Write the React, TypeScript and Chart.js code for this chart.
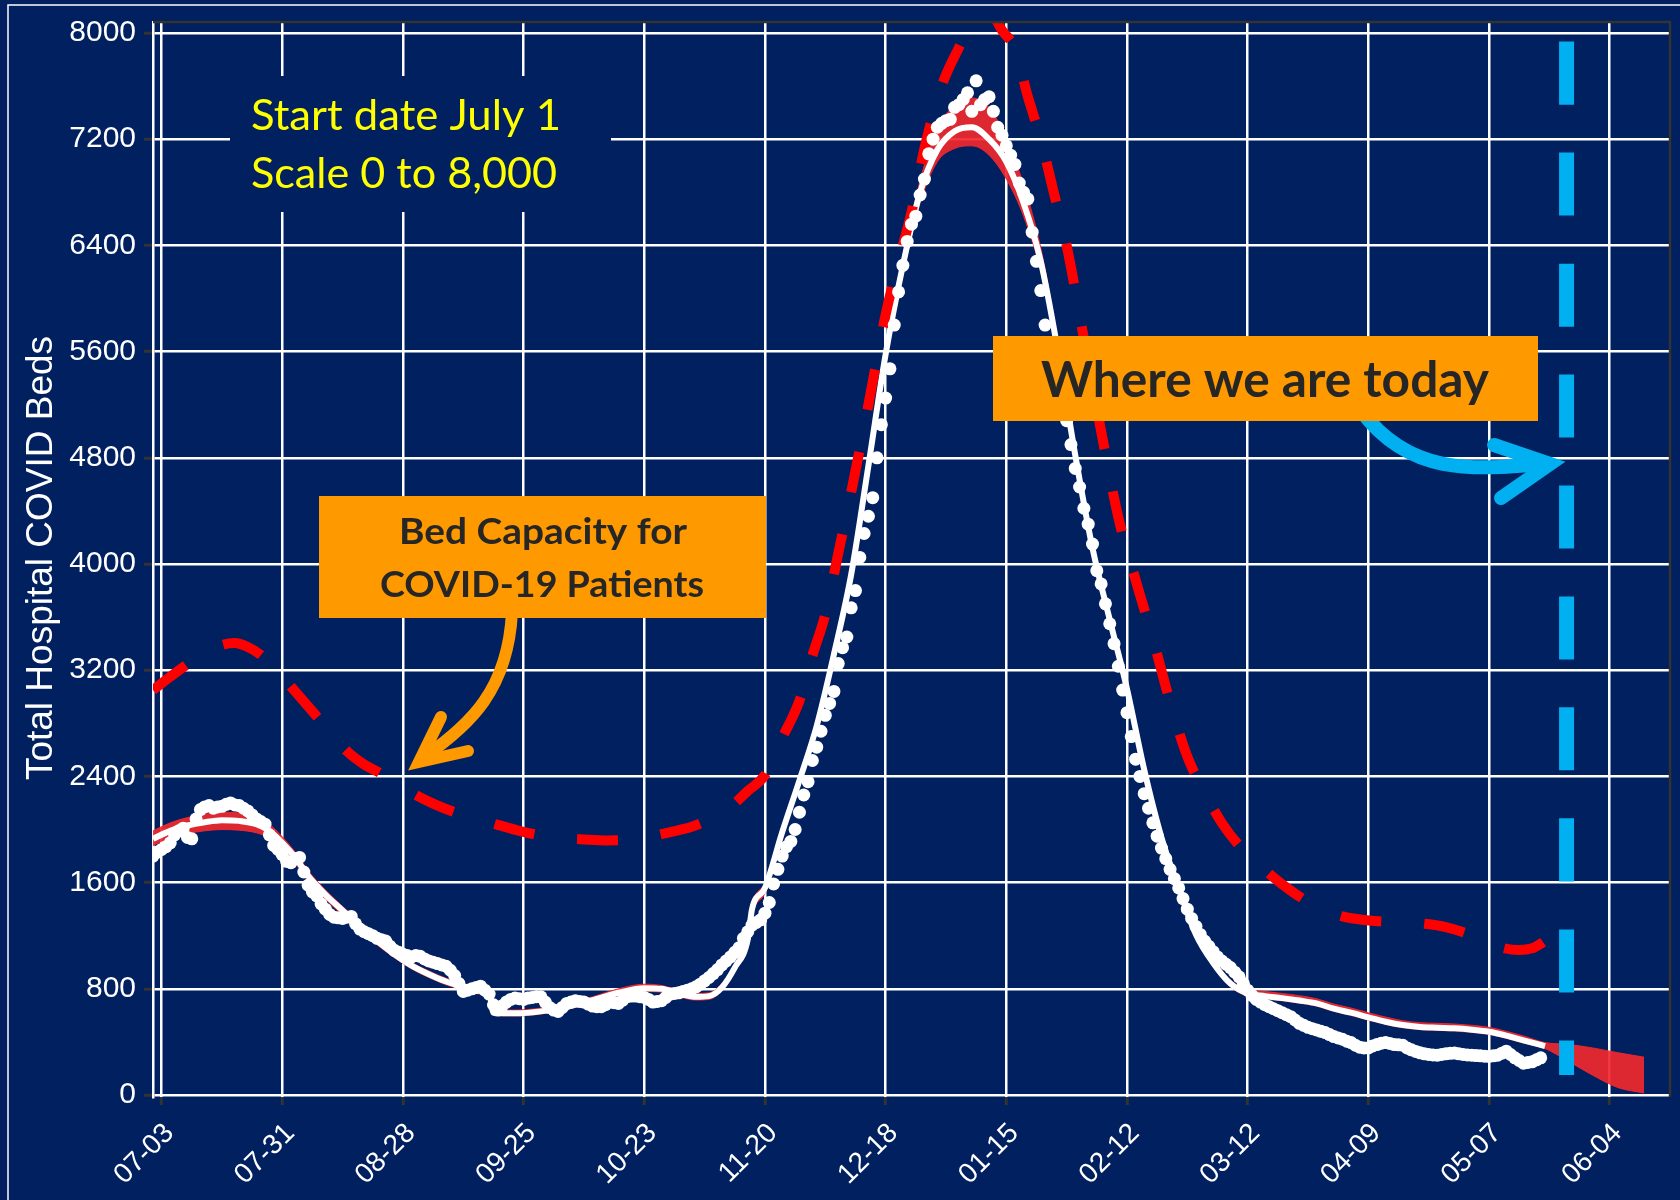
import React, { useEffect, useRef } from 'react';
import { Chart, registerables } from 'chart.js';

Chart.register(...registerables);

// ---------- axis ticks ----------
const xTickDays = [2, 30, 58, 86, 114, 142, 170, 198, 226, 254, 282, 310, 338];
const xTickLabels = ['07-03', '07-31', '08-28', '09-25', '10-23', '11-20', '12-18', '01-15', '02-12', '03-12', '04-09', '05-07', '06-04'];
const yTickValues = [0, 800, 1600, 2400, 3200, 4000, 4800, 5600, 6400, 7200, 8000];

// ---------- model fit (day index from July 1) ----------
const modelDays = [
  0, 4, 8, 12, 16, 20, 24, 27, 30, 33,
  36, 40, 44, 48, 52, 56, 60, 64, 68, 72,
  76, 78, 79, 84, 90, 96, 102, 108, 114, 118,
  122, 126, 129, 132, 135, 138, 139, 142, 146, 150,
  154, 158, 162, 166, 170, 174, 178, 182, 186, 190,
  194, 198, 202, 206, 210, 214, 218, 222, 226, 230,
  234, 238, 242, 246, 250, 254, 258, 262, 266, 270,
  274, 278, 282, 286, 290, 294, 298, 302, 306, 310,
  314, 318, 323, 328, 334, 340, 346,
];
const modelMid = [
  1930, 1990, 2030, 2055, 2070, 2065, 2040, 1990, 1900, 1790,
  1650, 1510, 1390, 1270, 1160, 1060, 975, 910, 855, 815,
  785, 775, 620, 615, 630, 665, 715, 770, 805, 800,
  765, 740, 745, 810, 960, 1170, 1400, 1560, 1980, 2370,
  2780, 3320, 3920, 4740, 5580, 6250, 6800, 7120, 7260, 7290,
  7200, 7030, 6720, 6280, 5600, 4820, 4120, 3580, 3060, 2450,
  1940, 1560, 1210, 995, 840, 765, 745, 730, 712, 690,
  650, 620, 585, 552, 527, 513, 507, 502, 492, 477,
  448, 412, 368, null, null, null, null,
];
const modelUpper = [
  1990, 2050, 2090, 2115, 2130, 2125, 2095, 2040, 1945, 1830,
  1690, 1545, 1420, 1300, 1190, 1090, 1000, 935, 880, 840,
  810, 800, 650, 640, 655, 690, 740, 800, 835, 825,
  790, 765, 770, 840, 990, 1200, 1430, 1600, 2020, 2410,
  2820, 3360, 3970, 4790, 5640, 6320, 6890, 7290, 7450, 7510,
  7440, 7200, 6860, 6380, 5670, 4880, 4170, 3630, 3100, 2490,
  1975, 1595, 1240, 1020, 865, 795, 780, 765, 748, 725,
  685, 655, 620, 587, 560, 545, 540, 535, 525, 510,
  480, 445, 395, 382, 355, 318, 285,
];
const modelLower = [
  1880, 1940, 1970, 1990, 2000, 1995, 1975, 1935, 1850, 1745,
  1610, 1475, 1355, 1240, 1130, 1035, 950, 885, 830, 790,
  760, 750, 600, 595, 610, 645, 690, 745, 780, 775,
  740, 715, 720, 785, 930, 1140, 1360, 1520, 1940, 2330,
  2740, 3280, 3870, 4690, 5520, 6180, 6720, 7030, 7130, 7150,
  7080, 6900, 6620, 6200, 5540, 4760, 4070, 3530, 3020, 2410,
  1905, 1525, 1180, 970, 815, 745, 725, 710, 692, 670,
  630, 600, 565, 532, 507, 493, 487, 482, 472, 457,
  428, 392, 350, 262, 150, 55, 15,
];

// ---------- bed capacity ----------
const capacityDays = [
  0, 4, 8, 12, 16, 19, 22, 25, 29, 33,
  37, 41, 45, 49, 53, 57, 61, 65, 70, 75,
  80, 85, 90, 95, 100, 105, 110, 115, 120, 125,
  130, 134, 138, 142, 146, 150, 153, 156, 159, 162,
  166, 170, 173, 176, 179, 183, 187, 191, 194, 197,
  200, 203, 206, 209, 212, 216, 220, 224, 228, 232,
  236, 240, 244, 248, 252, 256, 260, 264, 268, 272,
  276, 281, 286, 290, 295, 300, 305, 309, 313, 317,
  320, 322, 324.5,
];
const capacityBeds = [
  3050, 3150, 3245, 3330, 3390, 3405, 3375, 3315, 3190, 3040,
  2890, 2740, 2590, 2490, 2420, 2335, 2260, 2195, 2130, 2080,
  2035, 1990, 1955, 1935, 1925, 1918, 1922, 1945, 1980, 2020,
  2090, 2170, 2290, 2410, 2690, 2970, 3310, 3620, 4080, 4540,
  5200, 5880, 6280, 6650, 7130, 7600, 7890, 8130, 8160, 8020,
  7880, 7520, 7200, 6800, 6400, 5700, 5000, 4350, 3880, 3440,
  2960, 2550, 2280, 2050, 1880, 1755, 1640, 1540, 1455, 1390,
  1345, 1318, 1306, 1303, 1290, 1265, 1215, 1165, 1110, 1092,
  1105, 1140, 1200,
];

// ---------- observed hospital beds, one value per day from July 1 ----------
const obsStartDay = 0;
const obsBeds = [
  // days 0-9
  1800, 1830, 1850, 1870, 1900, 1960, 1990, 2010, 1940, 1930,
  // 10-19
  2080, 2150, 2170, 2180, 2160, 2170, 2175, 2190, 2200, 2185,
  // 20-29
  2180, 2160, 2140, 2110, 2080, 2060, 2040, 1960, 1880, 1850,
  // 30-39
  1810, 1760, 1750, 1780, 1790, 1680, 1580, 1530, 1500, 1440,
  // 40-49
  1400, 1360, 1340, 1335, 1330, 1340, 1345, 1290, 1250, 1230,
  // 50-59
  1215, 1200, 1180, 1170, 1160, 1120, 1090, 1075, 1060, 1050,
  // 60-69
  1040, 1050, 1045, 1025, 1010, 1000, 990, 980, 970, 940,
  // 70-79
  900, 840, 780, 790, 800, 810, 820, 790, 760, 680,
  // 80-89
  640, 670, 700, 720, 730, 725, 720, 730, 735, 740,
  // 90-99
  740, 700, 660, 640, 630, 660, 690, 700, 710, 705,
  // 100-109
  700, 685, 670, 665, 665, 680, 700, 695, 690, 715,
  // 110-119
  740, 745, 745, 740, 735, 720, 700, 705, 710, 735,
  // 120-129
  760, 765, 770, 780, 790, 800, 815, 835, 860, 885,
  // 130-139
  915, 945, 980, 1010, 1040, 1075, 1110, 1180, 1230, 1280,
  // 140-149
  1300, 1320, 1370, 1450, 1590, 1700, 1800, 1870, 1910, 2000,
  // 150-159
  2130, 2260, 2360, 2520, 2620, 2740, 2860, 2950, 3040, 3250,
  // 160-169
  3370, 3450, 3670, 3800, 4050, 4230, 4360, 4500, 4800, 5050,
  // 170-179
  5250, 5470, 5800, 6050, 6250, 6430, 6560, 6620, 6780, 6900,
  // 180-189
  7090, 7200, 7290, 7320, 7340, 7350, 7440, 7460, 7500, 7550,
  // 190-199
  7410, 7640, 7460, 7500, 7520, 7410, 7290, 7230, 7150, 7080,
  // 200-209
  7010, 6870, 6800, 6750, 6500, 6280, 6060, 5800, 5620, 5450,
  // 210-219
  5300, 5200, 5080, 4900, 4720, 4580, 4420, 4300, 4150, 3950,
  // 220-229
  3850, 3700, 3550, 3400, 3230, 3050, 2880, 2700, 2530, 2400,
  // 230-239
  2270, 2160, 2050, 1950, 1860, 1780, 1700, 1630, 1560, 1480,
  // 240-249
  1400, 1330, 1270, 1210, 1160, 1120, 1080, 1040, 1010, 985,
  // 250-259
  960, 925, 890, 840, 790, 750, 720, 700, 680, 665,
  // 260-269
  650, 635, 620, 605, 590, 565, 540, 525, 510, 500,
  // 270-279
  490, 480, 470, 455, 440, 430, 420, 405, 395, 375,
  // 280-289
  360, 355, 355, 370, 380, 390, 395, 388, 380, 378,
  // 290-299
  375, 355, 340, 328, 318, 310, 305, 302, 300, 305,
  // 300-309
  310, 314, 316, 310, 305, 302, 300, 297, 295, 292,
  // 310-319
  290, 295, 300, 315, 330, 305, 280, 260, 240, 245,
  // 320-322
  250, 265, 280,
];

// ---------- "today" marker ----------
const todayDay = 328;
const todayRange = [7936, 150];

const NAVY = '#002060';
const ORANGE = '#FF9900';
const BAND_RED = 'rgba(240, 40, 46, 0.92)';
const AXIS_FONT = '"Liberation Sans", Arial, Helvetica, sans-serif';

function fitText(
  ctx: CanvasRenderingContext2D,
  text: string,
  x: number,
  baseline: number,
  capH: number,
  width: number,
  bold: boolean,
  color: string,
  align: 'left' | 'center'
) {
  const size = capH / 0.7165;
  ctx.save();
  ctx.font = `${bold ? 'bold ' : ''}${size}px Lato, "Open Sans", sans-serif`;
  ctx.textAlign = 'left';
  ctx.textBaseline = 'alphabetic';
  const w = ctx.measureText(text).width;
  const sx = width / w;
  const left = align === 'center' ? x - width / 2 : x;
  ctx.translate(left, baseline);
  ctx.scale(sx, 1);
  ctx.fillStyle = color;
  ctx.fillText(text, 0, 0);
  ctx.restore();
}

const backgroundPlugin = {
  id: 'bgPlugin',
  beforeDraw(chart: any) {
    const ctx: CanvasRenderingContext2D = chart.ctx;
    ctx.save();
    ctx.fillStyle = NAVY;
    ctx.fillRect(0, 0, chart.width, chart.height);
    ctx.strokeStyle = '#FFFFFF';
    ctx.lineWidth = 1.5;
    ctx.beginPath();
    ctx.moveTo(8, chart.height);
    ctx.lineTo(8, 5);
    ctx.lineTo(chart.width, 5);
    ctx.stroke();
    ctx.restore();
  },
};

const annotationPlugin = {
  id: 'annotPlugin',
  afterDatasetsDraw(chart: any) {
    const ctx: CanvasRenderingContext2D = chart.ctx;
    const area = chart.chartArea;
    ctx.save();

    // dark frame top & right
    ctx.strokeStyle = '#333333';
    ctx.lineWidth = 2.5;
    ctx.beginPath();
    ctx.moveTo(area.left, area.top);
    ctx.lineTo(area.right, area.top);
    ctx.lineTo(area.right, area.bottom);
    ctx.stroke();

    // start-date note
    ctx.fillStyle = NAVY;
    ctx.fillRect(230, 76, 381, 136);
    fitText(ctx, 'Start date July 1', 251, 130, 30, 310, false, '#FFFF00', 'left');
    fitText(ctx, 'Scale 0 to 8,000', 251, 188, 31, 306, false, '#FFFF00', 'left');

    // orange arrow
    ctx.strokeStyle = ORANGE;
    ctx.lineWidth = 12;
    ctx.lineCap = 'round';
    ctx.lineJoin = 'miter';
    ctx.beginPath();
    ctx.moveTo(512, 612);
    ctx.bezierCurveTo(508, 690, 470, 725, 424, 757);
    ctx.stroke();
    ctx.beginPath();
    ctx.moveTo(441, 717);
    ctx.lineTo(419, 762);
    ctx.lineTo(468, 751);
    ctx.stroke();

    // blue arrow
    ctx.strokeStyle = '#00B0F0';
    ctx.lineWidth = 14;
    ctx.beginPath();
    ctx.moveTo(1362, 412);
    ctx.bezierCurveTo(1410, 475, 1470, 470, 1546, 464);
    ctx.stroke();
    ctx.beginPath();
    ctx.moveTo(1494, 445);
    ctx.lineTo(1550, 464);
    ctx.lineTo(1501, 498);
    ctx.stroke();

    // orange boxes
    ctx.fillStyle = ORANGE;
    ctx.fillRect(319, 496, 447, 122);
    fitText(ctx, 'Bed Capacity for', 543, 544, 25.5, 288, true, '#262626', 'center');
    fitText(ctx, 'COVID-19 Patients', 542, 597, 25.5, 324, true, '#262626', 'center');

    ctx.fillStyle = ORANGE;
    ctx.fillRect(993, 336, 545, 85);
    fitText(ctx, 'Where we are today', 1265, 397, 35, 448, true, '#262626', 'center');

    // y axis title
    ctx.save();
    ctx.translate(42, 558);
    ctx.rotate(-Math.PI / 2);
    ctx.font = `37px ${AXIS_FONT}`;
    ctx.fillStyle = '#FFFFFF';
    ctx.textAlign = 'center';
    ctx.textBaseline = 'middle';
    ctx.fillText('Total Hospital COVID Beds', 0, 0);
    ctx.restore();

    ctx.restore();
  },
};

export default function App() {
  const canvasRef = useRef<HTMLCanvasElement | null>(null);

  useEffect(() => {
    if (!canvasRef.current) return;
    const xy = (xs: number[], ys: (number | null)[]) => xs.map((x, i) => ({ x, y: ys[i] }));
    const obsPoints = obsBeds.map((y, i) => ({ x: obsStartDay + i, y }));

    const chart = new Chart(canvasRef.current, {
      type: 'line',
      data: {
        datasets: [
          {
            data: xy(modelDays, modelUpper),
            borderColor: BAND_RED,
            borderWidth: 1,
            pointRadius: 0,
            fill: false,
            cubicInterpolationMode: 'monotone',
            order: 6,
          },
          {
            data: xy(modelDays, modelLower),
            borderColor: BAND_RED,
            backgroundColor: BAND_RED,
            borderWidth: 1,
            pointRadius: 0,
            fill: '-1',
            cubicInterpolationMode: 'monotone',
            order: 5,
          },
          {
            data: xy(modelDays, modelMid),
            borderColor: '#FFFFFF',
            borderWidth: 6,
            pointRadius: 0,
            fill: false,
            spanGaps: false,
            cubicInterpolationMode: 'monotone',
            order: 4,
          },
          {
            data: xy(capacityDays, capacityBeds),
            borderColor: '#FF0000',
            borderWidth: 10,
            borderDash: [41, 43],
            borderCapStyle: 'butt',
            pointRadius: 0,
            fill: false,
            cubicInterpolationMode: 'monotone',
            clip: 0,
            order: 3,
          },
          {
            data: obsPoints,
            showLine: false,
            pointRadius: 6.5,
            pointBackgroundColor: '#FFFFFF',
            pointBorderWidth: 0,
            clip: 0,
            order: 2,
          },
          {
            data: [
              { x: todayDay, y: todayRange[0] },
              { x: todayDay, y: todayRange[1] },
            ],
            borderColor: '#00B0F0',
            borderWidth: 15,
            borderDash: [63, 48],
            borderCapStyle: 'butt',
            pointRadius: 0,
            fill: false,
            order: 1,
          },
        ],
      } as any,
      options: {
        responsive: false,
        animation: false,
        devicePixelRatio: 1,
        layout: { padding: { top: 22, right: 10, left: 0, bottom: 0 } },
        plugins: {
          legend: { display: false },
          tooltip: { enabled: false },
        },
        elements: { line: { tension: 0.4 } },
        scales: {
          x: {
            type: 'linear',
            min: 0,
            max: 352,
            afterBuildTicks: (s: any) => {
              s.ticks = xTickDays.map((v) => ({ value: v }));
            },
            afterFit: (s: any) => {
              s.height = 103;
              s.paddingLeft = 0;
              s.paddingRight = 0;
              s.paddingTop = 0;
              s.paddingBottom = 0;
            },
            ticks: {
              autoSkip: false,
              maxRotation: 45,
              minRotation: 45,
              color: '#FFFFFF',
              font: { family: AXIS_FONT, size: 28 },
              padding: 12,
              labelOffset: 8,
              callback: (_v: any, i: number) => xTickLabels[i],
            },
            grid: { color: '#FFFFFF', lineWidth: 2.5, tickColor: '#333333', tickLength: 8, tickWidth: 3 },
            border: { display: false },
          },
          y: {
            type: 'linear',
            min: -15,
            max: 8083,
            afterBuildTicks: (s: any) => {
              s.ticks = yTickValues.map((v) => ({ value: v }));
            },
            afterFit: (s: any) => {
              s.width = 153;
              s.paddingLeft = 0;
              s.paddingRight = 0;
              s.paddingTop = 0;
              s.paddingBottom = 0;
            },
            ticks: {
              color: '#FFFFFF',
              font: { family: AXIS_FONT, size: 30 },
              padding: 8,
              callback: (v: any) => String(v),
            },
            grid: { color: '#FFFFFF', lineWidth: 2.5, tickColor: '#333333', tickLength: 9, tickWidth: 3 },
            border: { display: true, color: '#FFFFFF', width: 2.5 },
          },
        },
      } as any,
      plugins: [backgroundPlugin, annotationPlugin],
    });

    return () => chart.destroy();
  }, []);

  return (
    <div style={{ position: 'absolute', left: 0, top: 0, width: 1680, height: 1200 }}>
      <canvas ref={canvasRef} width={1680} height={1200} style={{ display: 'block' }} />
    </div>
  );
}
